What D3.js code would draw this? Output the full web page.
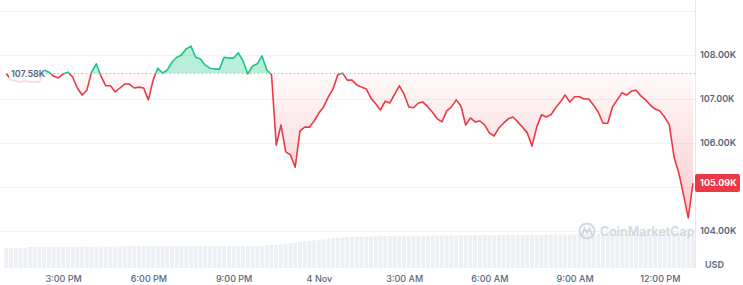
<!DOCTYPE html>
<html>
<head>
<meta charset="utf-8">
<script src="https://cdn.jsdelivr.net/npm/d3@7"></script>
<style>
body { margin: 0; background: #fff; }
svg { display: block; font-family: Inter, "Noto Sans", sans-serif; }
</style>
</head>
<body>
<script>
// BTC price, 10 minute steps from 13:00 on 3 Nov (values in K USD)
var startTime = new Date(2024, 10, 3, 13, 0);
var stepMinutes = 10;
var prices = [
    107.58, 107.43, 107.41, 107.39, 107.41, 107.39, 107.39, 107.39, 107.66, 107.61,
    107.52, 107.48, 107.57, 107.61, 107.50, 107.25, 107.09, 107.20, 107.61, 107.80,
    107.52, 107.30, 107.30, 107.16, 107.25, 107.34, 107.34, 107.25, 107.27, 107.25,
    106.98, 107.43, 107.70, 107.59, 107.66, 107.84, 107.95, 108.00, 108.14, 108.20,
    107.95, 107.91, 107.77, 107.70, 107.68, 107.68, 107.95, 107.93, 107.93, 108.05,
    107.86, 107.57, 107.75, 107.80, 107.98, 107.66, 107.55, 105.95, 106.41, 105.80,
    105.73, 105.45, 106.27, 106.36, 106.36, 106.50, 106.68, 106.82, 107.05, 107.23,
    107.55, 107.59, 107.43, 107.43, 107.32, 107.27, 107.23, 107.02, 106.89, 106.75,
    106.95, 106.91, 107.11, 107.30, 107.11, 106.82, 106.80, 106.91, 106.93, 106.82,
    106.70, 106.55, 106.48, 106.73, 106.82, 106.98, 106.84, 106.41, 106.57, 106.48,
    106.50, 106.41, 106.23, 106.16, 106.34, 106.45, 106.55, 106.59, 106.48, 106.36,
    106.23, 105.93, 106.36, 106.64, 106.59, 106.64, 106.80, 106.93, 107.09, 106.93,
    107.05, 107.05, 107.00, 107.00, 106.86, 106.70, 106.45, 106.45, 106.82, 106.98,
    107.14, 107.09, 107.18, 107.20, 107.07, 106.98, 106.86, 106.77, 106.73, 106.59,
    106.41, 105.68, 105.32, 104.82, 104.30, 105.09
];
// 24h volume (B USD), same steps
var volumes = [
    30.0, 30.1, 30.0, 30.2, 30.1, 31.4, 31.5, 31.5, 31.6, 31.5,
    31.6, 31.7, 31.6, 31.7, 31.8, 31.7, 31.8, 31.9, 32.0, 32.1,
    32.1, 32.2, 32.1, 32.2, 32.3, 32.2, 32.3, 32.3, 32.4, 32.3,
    32.4, 32.5, 32.4, 32.5, 32.5, 32.6, 32.5, 32.6, 32.7, 32.6,
    32.7, 32.7, 32.8, 32.7, 32.8, 32.8, 32.9, 32.8, 32.9, 33.0,
    32.9, 33.0, 33.0, 33.1, 33.2, 33.8, 34.5, 35.1, 35.8, 36.9,
    37.6, 38.2, 38.9, 39.8, 40.5, 41.2, 42.0, 42.9, 43.8, 44.6,
    45.2, 45.7, 46.1, 46.4, 46.7, 46.9, 47.1, 47.3, 47.5, 47.6,
    47.8, 47.9, 48.0, 48.1, 48.2, 48.2, 48.3, 48.4, 48.5, 48.5,
    48.6, 48.7, 48.7, 48.8, 48.9, 49.0, 49.1, 49.2, 49.2, 49.3,
    49.4, 49.4, 49.5, 49.5, 49.6, 49.6, 49.7, 49.7, 49.8, 49.8,
    49.9, 49.9, 50.0, 50.0, 50.1, 50.1, 50.2, 50.2, 50.3, 50.3,
    50.4, 50.4, 50.5, 50.5, 50.5, 50.6, 50.6, 50.7, 50.7, 50.8,
    50.8, 50.9, 50.9, 51.0, 51.0, 51.1, 51.1, 51.2, 51.2, 51.3,
    51.3, 51.4, 51.4, 51.5, 51.5, 48.0
];
var openPrice = 107.58;
var lastPrice = 105.09;
var gridPrices = [104, 105, 106, 107, 108, 109];
var labelPrices = [104, 106, 107, 108];   // 105 sits under the last price tag
var tickTimes = [
    new Date(2024, 10, 3, 15), new Date(2024, 10, 3, 18), new Date(2024, 10, 3, 21),
    new Date(2024, 10, 4, 0), new Date(2024, 10, 4, 3), new Date(2024, 10, 4, 6),
    new Date(2024, 10, 4, 9), new Date(2024, 10, 4, 12)
];
var tickLabels = ["3:00 PM", "6:00 PM", "9:00 PM", "4 Nov", "3:00 AM", "6:00 AM", "9:00 AM", "12:00 PM"];

var width = 743, height = 285;
var plotRight = 695, plotBottom = 268;
var green = "#16c784", red = "#ea3943", textGray = "#58667e";

var data = prices.map(function(p, i) {
    return {
        time: new Date(startTime.getTime() + i * stepMinutes * 60000),
        price: p,
        volume: volumes[i]
    };
});

var x = d3.scaleTime()
    .domain([data[0].time, data[data.length - 1].time])
    .range([6.3, 693]);
var y = d3.scaleLinear().domain([104, 109]).range([231, 11]);
var yVol = d3.scaleLinear().domain([0, 60]).range([plotBottom, 228]);

var svg = d3.select("body").append("svg")
    .attr("width", width)
    .attr("height", height);

var defs = svg.append("defs");
var grad = defs.append("linearGradient")
    .attr("id", "redFill")
    .attr("gradientUnits", "userSpaceOnUse")
    .attr("x1", 0).attr("x2", 0)
    .attr("y1", y(openPrice)).attr("y2", y(104.3));
grad.append("stop").attr("offset", 0).attr("stop-color", red).attr("stop-opacity", 0.03);
grad.append("stop").attr("offset", 1).attr("stop-color", red).attr("stop-opacity", 0.26);

defs.append("clipPath").attr("id", "above")
    .append("rect").attr("x", 0).attr("y", 0)
    .attr("width", plotRight).attr("height", y(openPrice));
defs.append("clipPath").attr("id", "below")
    .append("rect").attr("x", 0).attr("y", y(openPrice))
    .attr("width", plotRight).attr("height", plotBottom - y(openPrice));

// grid
svg.selectAll(".grid").data(gridPrices).enter().append("line")
    .attr("class", "grid")
    .attr("x1", 0).attr("x2", plotRight)
    .attr("y1", function(d) { return y(d) + 0.5; })
    .attr("y2", function(d) { return y(d) + 0.5; })
    .style("stroke", "#f1f2f5")
    .style("stroke-width", 1);

svg.append("line")
    .attr("x1", plotRight + 0.5).attr("x2", plotRight + 0.5)
    .attr("y1", 0).attr("y2", plotBottom)
    .style("stroke", "#e6e8ec");

// volume bars
svg.selectAll(".vol").data(data).enter().append("rect")
    .attr("class", "vol")
    .attr("x", function(d) { return x(d.time) - 1.9; })
    .attr("y", function(d) { return yVol(d.volume); })
    .attr("width", 3.8)
    .attr("height", function(d) { return plotBottom - yVol(d.volume); })
    .style("fill", "#eceff3");

// watermark
var wm = svg.append("g").attr("opacity", 0.9);
wm.append("circle").attr("cx", 587).attr("cy", 231).attr("r", 7.5)
    .style("fill", "none").style("stroke", "#cdd3de").style("stroke-width", 2);
wm.append("path").attr("d", "M582,235 L584.5,228 L587,233 L589.5,228 L592,235")
    .style("fill", "none").style("stroke", "#cdd3de").style("stroke-width", 1.8);
wm.append("text").attr("x", 600).attr("y", 236)
    .style("font-size", "12.5px").style("font-weight", 600)
    .style("fill", "#cdd3de")
    .text("CoinMarketCap");

// areas
var area = d3.area()
    .x(function(d) { return x(d.time); })
    .y0(y(openPrice))
    .y1(function(d) { return y(d.price); });
var line = d3.line()
    .x(function(d) { return x(d.time); })
    .y(function(d) { return y(d.price); });

svg.append("path").datum(data)
    .attr("d", area)
    .attr("clip-path", "url(#above)")
    .style("fill", green).style("fill-opacity", 0.3);
svg.append("path").datum(data)
    .attr("d", area)
    .attr("clip-path", "url(#below)")
    .style("fill", "url(#redFill)");

// baseline
svg.append("line")
    .attr("x1", 6).attr("x2", plotRight)
    .attr("y1", y(openPrice)).attr("y2", y(openPrice))
    .style("stroke", "#a6acb8")
    .style("stroke-width", 1)
    .style("stroke-dasharray", "1,3");

svg.append("path").datum(data)
    .attr("d", line)
    .attr("clip-path", "url(#above)")
    .style("fill", "none").style("stroke", green).style("stroke-width", 1.6)
    .style("stroke-linejoin", "round");
svg.append("path").datum(data)
    .attr("d", line)
    .attr("clip-path", "url(#below)")
    .style("fill", "none").style("stroke", red).style("stroke-width", 1.6)
    .style("stroke-linejoin", "round");

// open price label
svg.append("rect")
    .attr("x", 9).attr("y", 65).attr("width", 36).attr("height", 18)
    .style("fill", "#fff").style("fill-opacity", 0.8);
svg.append("text")
    .attr("x", 11).attr("y", y(openPrice))
    .attr("dy", "0.35em")
    .style("font-size", "9px").style("font-weight", 600)
    .style("fill", textGray)
    .text(openPrice.toFixed(2) + "K");

// y axis
var yAxis = d3.axisRight(y)
    .tickValues(labelPrices)
    .tickSize(0)
    .tickPadding(5)
    .tickFormat(function(d) { return d.toFixed(2) + "K"; });
var gy = svg.append("g").attr("transform", "translate(" + plotRight + ",0)").call(yAxis);
gy.select(".domain").remove();
gy.selectAll("text")
    .style("font-family", "Inter, sans-serif")
    .style("font-size", "9px").style("font-weight", 600)
    .style("fill", textGray);

svg.append("text")
    .attr("x", 705).attr("y", 265)
    .attr("dy", "0.35em")
    .style("font-size", "9px").style("font-weight", 700)
    .style("fill", "#6b778c")
    .text("USD");

// last price tag
svg.append("rect")
    .attr("x", plotRight).attr("y", y(lastPrice) - 9)
    .attr("width", 45).attr("height", 18).attr("rx", 2)
    .style("fill", red);
svg.append("text")
    .attr("x", plotRight + 5).attr("y", y(lastPrice))
    .attr("dy", "0.35em")
    .style("font-size", "9px").style("font-weight", 700)
    .style("fill", "#fff")
    .text(lastPrice.toFixed(2) + "K");

// x axis
var xAxis = d3.axisBottom(x)
    .tickValues(tickTimes)
    .tickSize(0)
    .tickPadding(8)
    .tickFormat(function(d, i) { return tickLabels[i]; });
var gx = svg.append("g").attr("transform", "translate(0," + plotBottom + ")").call(xAxis);
gx.select(".domain").remove();
gx.selectAll("text")
    .style("font-family", "Inter, sans-serif")
    .style("font-size", "9px").style("font-weight", 500)
    .style("fill", textGray);
</script>
</body>
</html>
